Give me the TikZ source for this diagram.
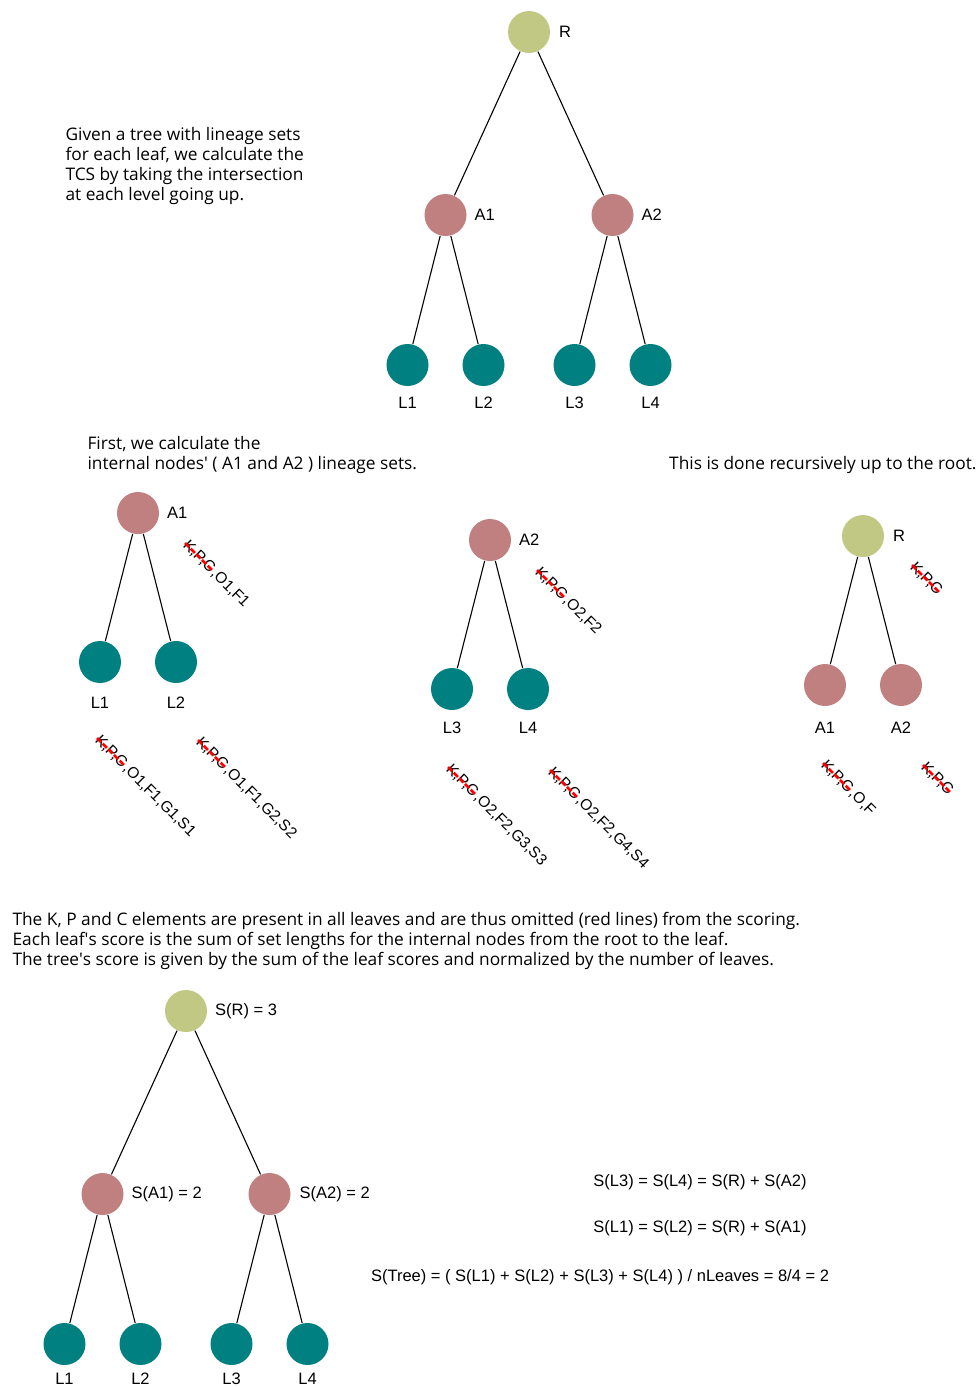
\documentclass[tikz,border=0pt]{standalone}
\usepackage{fontspec}
\setmainfont{Open Sans}
\newfontfamily\arialfam{Liberation Sans}
\usepackage{tikz}
\usetikzlibrary{positioning}
\definecolor{rootgreen}{RGB}{192,200,132}
\definecolor{innerpink}{RGB}{192,128,128}
\definecolor{leafteal}{RGB}{0,128,128}
\tikzset{
  treenode/.style = {circle, inner sep=0pt, minimum size=42pt},
  root_node/.style = {treenode, fill=rootgreen},% racine
  inner_node/.style = {treenode, fill=innerpink},% noeud interne
  leaf_node/.style = {treenode, fill=leafteal},% feuille
  tag/.style = {inner sep=0pt, font=\arialfam\fontsize{16.5}{19}\selectfont},
  note/.style = {inner sep=0pt, align=left,
    font=\fontsize{17.3}{20}\selectfont},
  set_text/.style = {inner sep=0pt, rotate=-45,
    font=\arialfam\fontsize{15.5}{18}\selectfont},
  cut_line/.style = {red, line width=2.6pt, dash pattern=on 6pt off 2pt}% K,P,C omis
}
% lineage set with K,P,C struck out: name, start, rest of the set
\newcommand{\lineageset}[3]{%
  \node[set_text, anchor=west] (#1) at (#2) {K,P,C};
  \node[set_text, anchor=base west] (#1r) at (#1.base east) {#3};
  \draw[cut_line] (#1.west) -- (#1.east);
}

\begin{document}
\begin{tikzpicture}[x=1pt, y=-1pt, line width=1.1pt]
  \useasboundingbox (0,0) rectangle (978,1387);
  \tikzstyle{level 1}=[sibling distance=167pt, level distance=183pt]
  \tikzstyle{level 2}=[sibling distance=76pt, level distance=150pt]

  % full tree
  \node [root_node] (t1r) at (529,32) {}
      child{ node [inner_node] (t1a1) {}
        child{ node [leaf_node] (t1l1) {} }
        child{ node [leaf_node] (t1l2) {} }
      }
      child{ node [inner_node] (t1a2) {}
        child{ node [leaf_node] (t1l3) {} }
        child{ node [leaf_node] (t1l4) {} }
      }
  ;
  \node [tag, right=8pt of t1r] (t1rt) {R};
  \node [tag, right=7pt of t1a1] (t1a1t) {A1};
  \node [tag, right=7pt of t1a2] (t1a2t) {A2};
  \node [tag, below=10pt of t1l1] (t1l1t) {L1};
  \node [tag, below=10pt of t1l2] (t1l2t) {L2};
  \node [tag, below=10pt of t1l3] (t1l3t) {L3};
  \node [tag, below=10pt of t1l4] (t1l4t) {L4};

  \node [note, anchor=north west] (intro) at (65,127)
    {Given a tree with lineage sets\\for each leaf, we calculate the\\
     TCS by taking the intersection\\at each level going up.};
  \node [note, anchor=north west] (first) at (87,436)
    {First, we calculate the\\internal nodes\textquotesingle{} ( A1 and A2 ) lineage sets.};
  \node [note, anchor=north east] (recur) at (977,456)
    {This is done recursively up to the root.};

  % internal nodes
  \begin{scope}[level 1/.style={sibling distance=76pt, level distance=149pt}]
    \node [inner_node] (t2a1) at (138,513) {}
        child{ node [leaf_node] (t2l1) {} }
        child{ node [leaf_node] (t2l2) {} }
    ;
    \node [inner_node] (t2a2) at (490,540) {}
        child{ node [leaf_node] (t2l3) {} }
        child{ node [leaf_node] (t2l4) {} }
    ;
    \node [root_node] (t2r) at (863,536) {}
        child{ node [inner_node] (t2ra1) {} }
        child{ node [inner_node] (t2ra2) {} }
    ;
  \end{scope}
  \node [tag, right=7pt of t2a1] (t2a1t) {A1};
  \node [tag, below=13pt of t2l1] (t2l1t) {L1};
  \node [tag, below=13pt of t2l2] (t2l2t) {L2};
  \node [tag, right=7pt of t2a2] (t2a2t) {A2};
  \node [tag, below=11pt of t2l3] (t2l3t) {L3};
  \node [tag, below=11pt of t2l4] (t2l4t) {L4};
  \node [tag, right=8pt of t2r] (t2rt) {R};
  \node [tag, below=15pt of t2ra1] (t2ra1t) {A1};
  \node [tag, below=15pt of t2ra2] (t2ra2t) {A2};

  \lineageset{s1}{185,543}{,O1,F1}
  \lineageset{s2}{97,738}{,O1,F1,G1,S1}
  \lineageset{s3}{198,740}{,O1,F1,G2,S2}
  \lineageset{s4}{537,570}{,O2,F2}
  \lineageset{s5}{448,767}{,O2,F2,G3,S3}
  \lineageset{s6}{550,770}{,O2,F2,G4,S4}
  \lineageset{s8}{823,763}{,O,F}
  \node [set_text, anchor=west] (s7) at (912,565) {K,P,C};
  \draw [cut_line] (s7.west) -- (s7.east);
  \node [set_text, anchor=west] (s9) at (923,765) {K,P,C};
  \draw [cut_line] (s9.west) -- (s9.east);

  \node [note, anchor=north west] (scoring) at (12,912)
    {The K, P and C elements are present in all leaves and are thus omitted (red lines) from the scoring.\\
     Each leaf\textquotesingle{}s score is the sum of set lengths for the internal nodes from the root to the leaf.\\
     The tree\textquotesingle{}s score is given by the sum of the leaf scores and normalized by the number of leaves.};

  % scored tree
  \node [root_node] (t3r) at (186,1011) {}
      child{ node [inner_node] (t3a1) {}
        child{ node [leaf_node] (t3l1) {} }
        child{ node [leaf_node] (t3l2) {} }
      }
      child{ node [inner_node] (t3a2) {}
        child{ node [leaf_node] (t3l3) {} }
        child{ node [leaf_node] (t3l4) {} }
      }
  ;
  \node [tag, right=7pt of t3r] (t3rt) {S(R) = 3};
  \node [tag, right=7pt of t3a1] (t3a1t) {S(A1) = 2};
  \node [tag, right=8pt of t3a2] (t3a2t) {S(A2) = 2};
  \node [tag, below=7pt of t3l1] (t3l1t) {L1};
  \node [tag, below=7pt of t3l2] (t3l2t) {L2};
  \node [tag, below=7pt of t3l3] (t3l3t) {L3};
  \node [tag, below=7pt of t3l4] (t3l4t) {L4};

  \node [tag] (eq1) at (700,1182) {S(L3) = S(L4) = S(R) + S(A2)};
  \node [tag] (eq2) at (700,1228) {S(L1) = S(L2) = S(R) + S(A1)};
  \node [tag] (eq3) at (600,1277)
    {S(Tree) = ( S(L1) + S(L2) + S(L3) + S(L4) ) / nLeaves = 8/4 = 2};
\end{tikzpicture}
\end{document}
